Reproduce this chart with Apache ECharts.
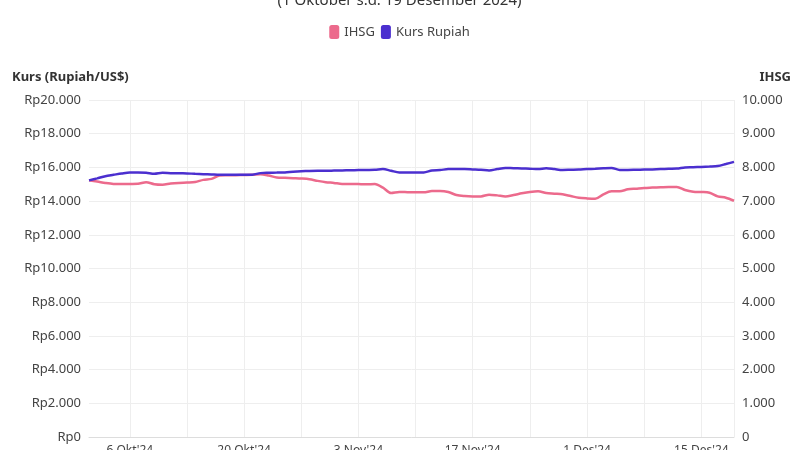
<!DOCTYPE html>
<html>
<head>
<meta charset="utf-8">
<script src="https://cdn.jsdelivr.net/npm/echarts@6/dist/echarts.min.js"></script>
<style>html,body{margin:0;padding:0;background:#fff}#chart{width:799px;height:450px}</style>
</head>
<body>
<div id="chart"></div>
<script>
const months = ["Okt", "Nov", "Des"];
const monthDays = [31, 30, 19];
const dates = [];
months.forEach(function (m, i) {
  for (let d = 1; d <= monthDays[i]; d++) dates.push(d + " " + m + "'24");
});

const ihsg = [7615,7580,7540,7510,7505,7510,7515,7560,7500,7485,7520,7540,7550,7565,7630,7660,7760,7765,7770,7775,
  7780,7800,7760,7700,7690,7680,7670,7650,7600,7560,7540,7510,7510,7505,7500,7505,7400,7240,7270,7265,
  7260,7260,7300,7300,7270,7180,7150,7140,7140,7190,7170,7140,7180,7230,7270,7290,7240,7220,7200,7150,
  7100,7080,7070,7200,7290,7290,7350,7370,7390,7400,7410,7420,7420,7330,7280,7270,7250,7140,7100,7010];

const kurs = [15230,15350,15480,15560,15640,15700,15700,15680,15620,15680,15660,15650,15640,15620,15600,15580,15560,15560,15560,15560,
  15570,15660,15680,15690,15700,15740,15770,15790,15800,15800,15810,15820,15830,15840,15850,15860,15900,15800,15700,15700,
  15700,15700,15820,15840,15900,15900,15900,15880,15860,15820,15900,15970,15950,15940,15920,15900,15950,15900,15850,15860,
  15870,15900,15920,15950,15970,15850,15850,15860,15870,15880,15900,15920,15930,16000,16010,16030,16050,16080,16200,16330];

const fontFam = "'Noto Sans', sans-serif";
const dot = function (v) { return v.toString().replace(/\B(?=(\d{3})+(?!\d))/g, "."); };

const myChart = echarts.init(document.getElementById("chart"));
const option = {
  animation: false,
  textStyle: { fontFamily: fontFam },
  title: {
    text: "(1 Oktober s.d. 19 Desember 2024)",
    left: "center",
    top: -12,
    textStyle: { fontSize: 15, fontWeight: "normal", color: "#333", fontFamily: fontFam }
  },
  legend: {
    top: 20,
    left: "center",
    icon: "roundRect",
    itemWidth: 10,
    itemHeight: 14,
    itemGap: 6,
    textStyle: { fontSize: 13, color: "#444" },
    data: ["IHSG", "Kurs Rupiah"]
  },
  grid: { left: 89, right: 65, top: 100, bottom: 13, containLabel: false, outerBoundsMode: "none" },
  xAxis: {
    type: "category",
    data: dates,
    boundaryGap: false,
    axisTick: { show: false },
    axisLine: { lineStyle: { color: "#ddd" } },
    axisLabel: {
      color: "#444",
      fontSize: 12,
      interval: function (i) { return i % 14 === 5; }
    },
    splitLine: {
      show: true,
      interval: function (i) { return i % 7 === 5 || i === 79; },
      lineStyle: { color: "#eee" }
    }
  },
  yAxis: [
    {
      type: "value",
      min: 0, max: 20000, interval: 2000,
      name: "Kurs (Rupiah/US$)",
      nameLocation: "end",
      nameGap: 16,
      nameTextStyle: { align: "left", padding: [0, 0, 0, -77], fontWeight: "bold", fontSize: 13, color: "#333" },
      axisLabel: { color: "#444", fontSize: 13, formatter: function (v) { return "Rp" + dot(v); } },
      axisLine: { show: false },
      splitLine: { lineStyle: { color: "#eee" } }
    },
    {
      type: "value",
      min: 0, max: 10000, interval: 1000,
      name: "IHSG",
      nameLocation: "end",
      nameGap: 16,
      nameTextStyle: { align: "right", padding: [0, -57, 0, 0], fontWeight: "bold", fontSize: 13, color: "#333" },
      axisLabel: { color: "#444", fontSize: 13, formatter: function (v) { return dot(v); } },
      axisLine: { show: false },
      splitLine: { show: false }
    }
  ],
  series: [
    {
      name: "IHSG", type: "line", yAxisIndex: 1, data: ihsg,
      showSymbol: false, smooth: 0.3,
      itemStyle: { color: "#ec6a8c" }, lineStyle: { width: 2.5, color: "#ec6a8c" }
    },
    {
      name: "Kurs Rupiah", type: "line", yAxisIndex: 0, data: kurs,
      showSymbol: false, smooth: 0.3,
      itemStyle: { color: "#4b2fcf" }, lineStyle: { width: 2.5, color: "#4b2fcf" }
    }
  ]
};
myChart.setOption(option);
</script>
</body>
</html>
